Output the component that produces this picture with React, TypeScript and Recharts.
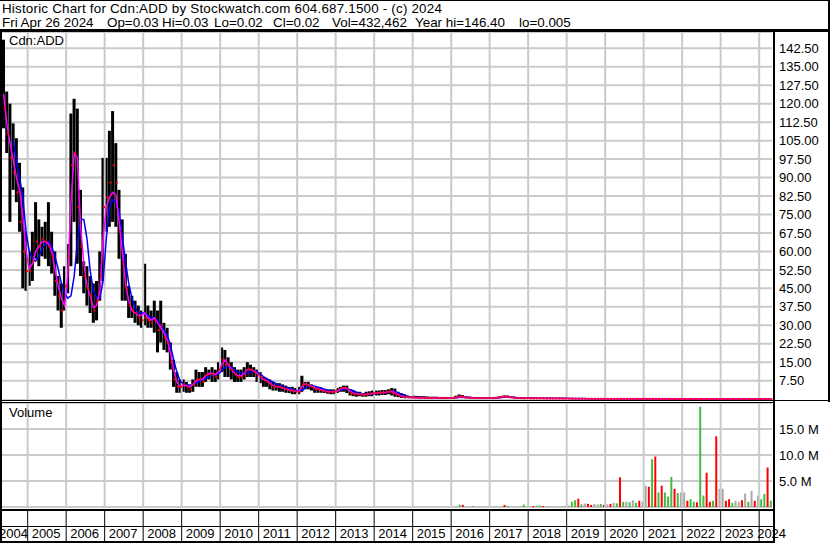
import React from "react";
import { ComposedChart, Bar, Line, XAxis, YAxis, CartesianGrid, ReferenceLine, Cell } from "recharts";

// monthly price bars, May 2004 .. Apr 2024, one row per calendar year
const HIGH = [
  146, 125, 120, 112, 106, 96, 86, 68,
  60, 68, 80, 73, 70, 72, 80, 68, 60, 50, 47, 54,
  63, 116, 122, 118, 85, 56, 54, 50, 47, 48, 60, 98,
  98, 109, 117, 104, 85, 73, 59, 46, 42, 40, 38, 36,
  55, 38, 36, 40, 36, 40, 31, 29, 23, 16, 11, 8,
  8, 7, 6, 8, 12, 11, 11, 13, 12, 13, 12, 15,
  21, 20, 17, 15, 13, 12, 12, 13, 15, 14, 13, 12,
  11, 9, 8.5, 8, 7, 6.5, 6.5, 6, 5.5, 5, 5, 4.5,
  5, 9.5, 7, 7, 6, 5, 5, 4.5, 4, 4, 4, 4,
  4.5, 5, 5.5, 5.5, 4, 3.5, 3, 3, 2.5, 3, 3.2, 3.5,
  3.5, 3.5, 3.7, 3.7, 4, 4.5, 4.3, 3, 2.5, 2, 1.5, 1.2,
  1.4, 1.3, 1.2, 1.2, 1.1, 1.0, 1.0, 1.0, 0.9, 0.9, 0.9, 0.9,
  0.9, 1.4, 1.9, 1.7, 1.2, 1.0, 0.9, 0.9, 0.8, 0.8, 0.8, 0.8,
  0.8, 0.9, 1.0, 1.3, 1.5, 1.5, 1.3, 1.0, 0.9, 0.8, 0.8, 0.7,
  0.7, 0.7, 0.7, 0.6, 0.6, 0.6, 0.6, 0.55, 0.55, 0.5, 0.5, 0.5,
  0.45, 0.45, 0.42, 0.4, 0.38, 0.36, 0.35, 0.33, 0.32, 0.3, 0.3, 0.28,
  0.27, 0.26, 0.25, 0.25, 0.3, 0.27, 0.25, 0.24, 0.24, 0.23, 0.22, 0.22,
  0.25, 0.26, 0.3, 0.28, 0.25, 0.24, 0.24, 0.22, 0.22, 0.2, 0.2, 0.18,
  0.17, 0.16, 0.16, 0.18, 0.15, 0.14, 0.13, 0.13, 0.12, 0.14, 0.12, 0.1,
  0.1, 0.09, 0.09, 0.08, 0.08, 0.07, 0.07, 0.07, 0.06, 0.06, 0.06, 0.05,
  0.05, 0.05, 0.06, 0.03,
];

const LOW = [
  110, 100, 72, 85, 80, 68, 45, 44,
  46, 48, 57, 54, 58, 57, 54, 51, 42, 36, 29, 36,
  43, 54, 72, 55, 50, 43, 38, 35, 31, 32, 40, 48,
  68, 70, 72, 70, 57, 40, 40, 33, 33, 31, 30, 29,
  30, 29, 29, 27, 19, 23, 20, 19, 12, 5, 2.6, 2.6,
  3, 2.6, 2.6, 3, 5, 5, 5, 7, 8, 7, 7, 8,
  11, 9, 9, 8, 7, 7, 7, 8, 9, 9, 9, 7,
  6.5, 5, 5, 4, 3.5, 3.5, 3, 3, 2.6, 2.5, 2, 2,
  2, 3, 4, 4, 3.5, 2.6, 2.6, 2.6, 2.5, 2.2, 2, 2,
  2.5, 3, 3, 2.5, 1.5, 1.2, 1, 1.2, 1, 1, 1.2, 1.2,
  1.5, 1.5, 1.7, 1.7, 2, 1.5, 1, 0.8, 0.5, 0.4, 0.4, 0.4,
  0.3, 0.3, 0.3, 0.3, 0.25, 0.25, 0.2, 0.2, 0.2, 0.2, 0.2, 0.2,
  0.2, 0.3, 0.5, 0.4, 0.3, 0.25, 0.2, 0.2, 0.2, 0.2, 0.2, 0.2,
  0.2, 0.2, 0.3, 0.4, 0.5, 0.5, 0.4, 0.3, 0.2, 0.2, 0.2, 0.2,
  0.15, 0.15, 0.15, 0.15, 0.12, 0.12, 0.12, 0.12, 0.1, 0.1, 0.1, 0.1,
  0.1, 0.09, 0.09, 0.08, 0.08, 0.08, 0.07, 0.07, 0.07, 0.06, 0.06, 0.06,
  0.05, 0.05, 0.04, 0.04, 0.05, 0.05, 0.05, 0.04, 0.04, 0.04, 0.04, 0.04,
  0.05, 0.05, 0.06, 0.05, 0.05, 0.05, 0.04, 0.04, 0.04, 0.04, 0.04, 0.03,
  0.03, 0.03, 0.03, 0.03, 0.03, 0.03, 0.02, 0.02, 0.02, 0.02, 0.02, 0.02,
  0.02, 0.02, 0.015, 0.015, 0.015, 0.01, 0.01, 0.01, 0.01, 0.01, 0.01, 0.005,
  0.01, 0.01, 0.01, 0.02,
];

const CLOSE = [
  118, 108, 98, 92, 84, 72, 60, 52,
  52, 56, 64, 62, 65, 64, 62, 58, 48, 42, 36, 46,
  58, 95, 100, 78, 62, 50, 45, 42, 36, 40, 50, 78,
  82, 88, 95, 88, 68, 55, 45, 38, 36, 35, 33, 32,
  33, 32, 31, 32, 28, 30, 25, 23, 15, 8, 5, 5,
  6, 5, 4, 6, 8, 8, 7, 10, 10, 10, 9, 12,
  16, 14, 14, 12, 10, 9, 9, 10, 12, 12, 11, 10,
  9, 8, 7, 6, 5, 5, 5, 4.5, 4, 3.5, 3.5, 3,
  3, 6, 6, 5.5, 5, 4, 4, 3.5, 3, 3, 3, 3,
  3.5, 4.5, 4.5, 4, 2.5, 2, 2, 2, 1.7, 2, 2.2, 2.5,
  2.5, 2.5, 2.7, 2.7, 3, 2.5, 2, 1.5, 1, 0.8, 0.8, 0.7,
  0.7, 0.6, 0.6, 0.6, 0.5, 0.5, 0.5, 0.5, 0.5, 0.45, 0.45, 0.45,
  0.5, 0.9, 1.2, 1.0, 0.7, 0.55, 0.5, 0.5, 0.45, 0.45, 0.45, 0.45,
  0.45, 0.5, 0.7, 0.9, 1.1, 1.0, 0.8, 0.6, 0.5, 0.45, 0.4, 0.4,
  0.35, 0.35, 0.35, 0.33, 0.32, 0.3, 0.3, 0.3, 0.28, 0.27, 0.26, 0.25,
  0.24, 0.22, 0.2, 0.2, 0.19, 0.18, 0.17, 0.16, 0.15, 0.15, 0.14, 0.13,
  0.12, 0.12, 0.11, 0.12, 0.15, 0.13, 0.12, 0.12, 0.11, 0.11, 0.1, 0.1,
  0.12, 0.13, 0.14, 0.13, 0.12, 0.11, 0.1, 0.1, 0.1, 0.09, 0.09, 0.08,
  0.08, 0.07, 0.07, 0.08, 0.07, 0.06, 0.06, 0.06, 0.05, 0.06, 0.05, 0.05,
  0.05, 0.04, 0.04, 0.04, 0.04, 0.035, 0.035, 0.03, 0.03, 0.03, 0.03, 0.025,
  0.03, 0.03, 0.03, 0.02,
];

// short moving average (magenta)
const MA_FAST = [
  124, 112, 104, 97, 90, 85, 74, 60,
  53, 55, 60, 62, 64, 64, 63, 60, 53, 46, 41, 38,
  50, 80, 100, 98, 70, 55, 46, 42, 37, 38, 44, 65,
  78, 82, 84, 83, 72, 60, 47, 40, 36, 35, 34, 34,
  35, 33, 32, 33, 31, 29, 27, 24, 19, 12, 7, 5,
  5.5, 5.5, 5, 6, 7.5, 8, 8, 9.5, 10.5, 10.5, 10, 11,
  14, 16, 14, 12, 10.5, 9.5, 9.5, 10.5, 12, 12, 11.5, 10.5,
  9, 8, 7.5, 6.5, 5.5, 5, 5, 4.5, 4, 3.7, 3.5, 3.2,
  3.2, 5, 6.3, 5.8, 5.2, 4.5, 4.2, 3.8, 3.3, 3.1, 3, 3,
  3.3, 4.2, 4.6, 4.5, 3.2, 2.4, 2.1, 2, 1.9, 1.9, 2.1, 2.4,
  2.5, 2.6, 2.7, 2.8, 3, 3.2, 2.6, 1.8, 1.2, 0.9, 0.8, 0.7,
  0.6, 0.6, 0.55, 0.55, 0.5, 0.5, 0.5, 0.5, 0.5, 0.45, 0.45, 0.45,
  0.5, 0.7, 1.0, 1.1, 0.8, 0.6, 0.5, 0.5, 0.5, 0.45, 0.45, 0.45,
  0.45, 0.5, 0.6, 0.8, 1.0, 1.0, 0.8, 0.6, 0.5, 0.45, 0.45, 0.4,
  0.38, 0.36, 0.35, 0.34, 0.33, 0.31, 0.3, 0.3, 0.29, 0.28, 0.27, 0.26,
  0.25, 0.23, 0.21, 0.2, 0.19, 0.18, 0.17, 0.16, 0.16, 0.15, 0.14, 0.13,
  0.13, 0.12, 0.12, 0.12, 0.14, 0.14, 0.13, 0.12, 0.12, 0.11, 0.11, 0.1,
  0.11, 0.12, 0.13, 0.13, 0.12, 0.11, 0.11, 0.1, 0.1, 0.09, 0.09, 0.08,
  0.08, 0.08, 0.07, 0.08, 0.07, 0.07, 0.06, 0.06, 0.06, 0.06, 0.05, 0.05,
  0.05, 0.05, 0.04, 0.04, 0.04, 0.04, 0.035, 0.035, 0.03, 0.03, 0.03, 0.03,
  0.03, 0.03, 0.03, 0.025,
];

// long moving average (blue)
const MA_SLOW = [
  null, null, null, 105, 97, 90, 82, 68,
  60, 57, 56, 58, 61, 63, 64, 62, 58, 53, 47, 43,
  41, 42, 50, 64, 73, 73, 65, 52, 44, 41, 41, 48,
  65, 78, 81, 80, 76, 66, 56, 47, 41, 37, 35, 35,
  35, 34, 33, 33, 32, 30, 28, 26, 22, 16, 11, 7.5,
  6.2, 5.8, 5.6, 5.8, 6.5, 7.2, 7.8, 8.5, 9.2, 9.8, 10, 10.3,
  11.5, 13, 13.5, 13, 12, 11, 10.5, 10.3, 10.5, 11, 11.2, 11,
  10.2, 9.2, 8.3, 7.4, 7, 6.3, 5.7, 5.2, 4.8, 4.4, 4, 3.6,
  3.3, 3.6, 4.5, 5.2, 5.5, 5.3, 4.9, 4.5, 4, 3.6, 3.3, 3.2,
  3.3, 3.6, 3.9, 4.1, 3.9, 3.4, 2.8, 2.4, 2.2, 2, 2, 2.1,
  2.3, 2.4, 2.5, 2.6, 2.7, 2.9, 3, 2.6, 2, 1.5, 1.1, 0.9,
  0.8, 0.75, 0.7, 0.65, 0.6, 0.6, 0.55, 0.55, 0.55, 0.5, 0.5, 0.5,
  0.5, 0.55, 0.7, 0.85, 0.9, 0.8, 0.65, 0.55, 0.5, 0.5, 0.5, 0.48,
  0.48, 0.5, 0.55, 0.65, 0.8, 0.9, 0.9, 0.75, 0.6, 0.5, 0.48, 0.45,
  0.45, 0.45, 0.42, 0.42, 0.4, 0.4, 0.4, 0.38, 0.38, 0.36, 0.35, 0.33,
  0.32, 0.3, 0.28, 0.26, 0.24, 0.22, 0.2, 0.18, 0.16, 0.15, 0.14, 0.13,
  0.13, 0.13, 0.12, 0.12, 0.13, 0.13, 0.13, 0.13, 0.12, 0.12, 0.12, 0.11,
  0.11, 0.11, 0.12, 0.12, 0.12, 0.12, 0.11, 0.11, 0.1, 0.1, 0.09, 0.09,
  0.09, 0.08, 0.08, 0.08, 0.07, 0.07, 0.07, 0.06, 0.06, 0.06, 0.06, 0.05,
  0.05, 0.05, 0.05, 0.045, 0.045, 0.04, 0.04, 0.035, 0.035, 0.03, 0.03, 0.03,
  0.03, 0.03, 0.03, 0.03,
];

// volume in millions (peak day of each month)
const VOLUME = [
  0, 0, 0, 0, 0, 0, 0, 0,
  0, 0, 0, 0, 0, 0, 0, 0, 0, 0, 0, 0,
  0, 0, 0, 0, 0, 0, 0, 0, 0, 0, 0, 0,
  0, 0, 0, 0, 0, 0, 0, 0, 0, 0, 0, 0,
  0, 0, 0, 0, 0, 0, 0, 0, 0, 0, 0, 0,
  0, 0, 0, 0, 0, 0, 0, 0, 0, 0, 0, 0,
  0, 0, 0, 0, 0, 0, 0, 0, 0, 0, 0, 0,
  0, 0, 0, 0, 0, 0, 0, 0, 0, 0, 0, 0,
  0, 0, 0, 0, 0, 0, 0, 0, 0, 0, 0, 0,
  0, 0, 0, 0, 0, 0, 0, 0, 0, 0, 0, 0,
  0, 0, 0, 0, 0, 0, 0, 0, 0, 0, 0, 0,
  0, 0, 0, 0, 0, 0, 0, 0, 0, 0, 0, 0,
  0, 0.1, 0.45, 0.4, 0.1, 0.05, 0.2, 0.1, 0.05, 0.05, 0.05, 0.05,
  0.05, 0.05, 0.05, 0.05, 0.4, 0.25, 0.05, 0.05, 0.05, 0.1, 0.45, 0.1,
  0.1, 0.2, 0.25, 0.3, 0.2, 0.1, 0.15, 0.05, 0.05, 0.1, 0.2, 0.15,
  0.3, 1.0, 1.3, 1.6, 0.5, 0.7, 0.6, 0.4, 0.6, 0.5, 0.6, 0.4,
  0.5, 0.6, 0.8, 0.7, 5.7, 1.0, 1.0, 0.9, 1.3, 0.8, 1.2, 1.0,
  4.1, 3.9, 9.2, 9.7, 2.8, 4.1, 2.8, 2.0, 5.8, 3.5, 2.7, 2.8,
  2.8, 1.2, 1.5, 1.0, 0.9, 19.3, 2.2, 6.6, 1.0, 1.2, 13.6, 3.5,
  3.5, 1.2, 1.5, 0.8, 1.2, 1.0, 1.3, 2.6, 1.0, 3.1, 1.2, 2.2,
  1.5, 2.5, 7.6, 1.2,
];

// u = up day (green), d = down day (red), n = unchanged (grey)
const VOL_DIR = [
  "nnnnnnnn",
  "nnnnnnnnnnnn", "nnnnnnnnnnnn", "nnnnnnnnnnnn", "nnnnnnnnnnnn", "nnnnnnnnnnnn",
  "nnnnnnnnnnnn", "nnnnnnnnnnnn", "nnnnnnnnnnnn", "nnnnnnnnnnnn", "nnnnnnnnnnnn",
  "nnnnnnnnnnnn",
  "nnudnnunnnnn",
  "nnnndunnnnun",
  "nduudnunnnnn",
  "nuudunddnnud",
  "ndnudununudn",
  "ndududuuudun",
  "nduuduuddudn",
  "nddunndnundn",
  "uudu",
].join("");

const PRICE_TICKS = [7.5, 15, 22.5, 30, 37.5, 45, 52.5, 60, 67.5, 75, 82.5, 90, 97.5, 105, 112.5, 120, 127.5, 135, 142.5];
const VOL_TICKS = [5, 10, 15];
const YEARS = [2004, 2005, 2006, 2007, 2008, 2009, 2010, 2011, 2012, 2013, 2014, 2015, 2016, 2017, 2018, 2019, 2020, 2021, 2022, 2023, 2024];

const TITLE = "Historic Chart for Cdn:ADD by Stockwatch.com 604.687.1500 - (c) 2024";
// quote line pieces and where each one starts
const QUOTE = [
  ["Fri Apr 26 2024", 2],
  ["Op=0.03", 107],
  ["Hi=0.03", 162],
  ["Lo=0.02", 214],
  ["Cl=0.02", 273],
  ["Vol=432,462", 332],
  ["Year hi=146.40", 415],
  ["lo=0.005", 519],
] as const;

const FIRST_YEAR = 2004;
const FIRST_MONTH = 5;

const FONT = "'Liberation Sans', Arial, sans-serif";
const GRID = "#cacaca";
const VOL_COLORS: Record<string, string> = { u: "#44bb44", d: "#ff0000", n: "#a8a8a8" };

const W = 830;
const PLOT_LEFT = 2;
const AXIS_W = 58;
const BW = (W - PLOT_LEFT - AXIS_W) / HIGH.length;

const monthKey = (i: number) => {
  const t = FIRST_MONTH - 1 + i;
  const y = FIRST_YEAR + Math.floor(t / 12);
  const m = (t % 12) + 1;
  return `${y}-${m < 10 ? "0" + m : m}`;
};

const priceData = HIGH.map((h, i) => ({
  m: monthKey(i),
  hl: [LOW[i], h],
  close: CLOSE[i],
  fast: MA_FAST[i],
  slow: MA_SLOW[i],
}));

const volData = VOLUME.map((v, i) => ({ m: monthKey(i), vol: v, dir: VOL_DIR[i] }));

const YEAR_TICKS = YEARS.map((y) => (y === FIRST_YEAR ? monthKey(0) : `${y}-01`));
const YEAR_STARTS = YEAR_TICKS.slice(1);

const CloseDot = (p: any) => {
  if (p.cy == null || isNaN(p.cy)) return <g key={p.index} />;
  return <rect key={p.index} x={p.cx} y={p.cy - 1} width={2} height={2} fill="#ff0000" />;
};

const YearTick = (props: any) => {
  const { x, y, payload, index } = props;
  const yr = String(payload.value).slice(0, 4);
  const start = x - BW / 2;
  let tx = start + 4;
  if (index === 0) tx = -1;
  else if (index === YEAR_TICKS.length - 1) tx = start - 2;
  return (
    <g>
      {index > 0 && <line x1={start} x2={start} y1={y + 3} y2={y + 35} stroke="#000" strokeWidth={1} />}
      <text x={tx} y={y + 31} fontSize={13} fill="#000" fontFamily={FONT}>
        {yr}
      </text>
    </g>
  );
};

const box = (left: number, top: number, width: number, height: number) => (
  <div style={{ position: "absolute", left, top, width, height, background: "#000" }} />
);

const txt = { position: "absolute" as const, fontSize: 13.4, lineHeight: "14px", whiteSpace: "pre" as const, color: "#000" };

export default function App() {
  return (
    <div style={{ position: "absolute", left: 0, top: 0, width: W, height: 543, background: "#fff", fontFamily: FONT, overflow: "hidden" }}>
      <div style={{ ...txt, left: 2, top: 2, letterSpacing: 0.2 }}>{TITLE}</div>
      {QUOTE.map(([s, x]) => (
        <div key={s} style={{ ...txt, left: x, top: 16 }}>
          {s}
        </div>
      ))}

      <div style={{ position: "absolute", left: 0, top: 32 }}>
        <ComposedChart width={W} height={368} data={priceData} margin={{ top: 0, right: 0, bottom: 0, left: PLOT_LEFT }}>
          <CartesianGrid vertical={false} stroke={GRID} strokeWidth={2} />
          {YEAR_STARTS.map((m) => (
            <ReferenceLine key={m} x={m} position="start" stroke={GRID} strokeWidth={2} />
          ))}
          <XAxis dataKey="m" hide />
          <YAxis
            orientation="right"
            width={AXIS_W}
            domain={[-0.34, 149.12]}
            allowDataOverflow
            ticks={PRICE_TICKS}
            interval={0}
            axisLine={false}
            tickLine={false}
            tickSize={0}
            tickMargin={7}
            tick={{ fill: "#000", fontSize: 13, fontFamily: FONT, textAnchor: "start" }}
            tickFormatter={(v: number) => v.toFixed(2)}
          />
          <Bar dataKey="hl" fill="#000" barSize={3} isAnimationActive={false} />
          <Line dataKey="slow" stroke="#0000ff" strokeWidth={1.5} dot={false} type="linear" isAnimationActive={false} />
          <Line dataKey="fast" stroke="#ff00ff" strokeWidth={1.5} dot={false} type="linear" isAnimationActive={false} />
          <Line dataKey="close" stroke="none" dot={CloseDot} activeDot={false} isAnimationActive={false} />
        </ComposedChart>
      </div>

      <div style={{ position: "absolute", left: 0, top: 403 }}>
        <ComposedChart width={W} height={140} data={volData} margin={{ top: 0, right: 0, bottom: 0, left: PLOT_LEFT }}>
          <CartesianGrid vertical={false} stroke={GRID} strokeWidth={2} />
          {YEAR_STARTS.map((m) => (
            <ReferenceLine key={m} x={m} position="start" stroke={GRID} strokeWidth={2} />
          ))}
          <XAxis
            dataKey="m"
            height={36}
            ticks={YEAR_TICKS}
            interval={0}
            axisLine={false}
            tickLine={false}
            tickSize={0}
            tickMargin={0}
            tick={YearTick}
          />
          <YAxis
            orientation="right"
            width={AXIS_W}
            domain={[0, 20]}
            allowDataOverflow
            ticks={VOL_TICKS}
            interval={0}
            axisLine={false}
            tickLine={false}
            tickSize={0}
            tickMargin={7}
            tick={{ fill: "#000", fontSize: 13, fontFamily: FONT, textAnchor: "start" }}
            tickFormatter={(v: number) => `${v.toFixed(1)} M`}
          />
          <Bar dataKey="vol" barSize={2} isAnimationActive={false}>
            {volData.map((d, i) => (
              <Cell key={i} fill={VOL_COLORS[d.dir]} />
            ))}
          </Bar>
        </ComposedChart>
      </div>

      <div style={{ ...txt, fontSize: 13, left: 9, top: 34 }}>Cdn:ADD</div>
      <div style={{ ...txt, fontSize: 13, left: 9, top: 406 }}>Volume</div>

      {box(0, 0, W, 1)}
      {box(0, 29, W, 3)}
      {box(0, 29, 2, 514)}
      {box(773, 29, 2, 513)}
      {box(828, 0, 2, 402)}
      {box(0, 400, W, 1)}
      {box(0, 402, 775, 1)}
      {box(0, 509, 775, 2)}
      {box(0, 526, 775, 1)}
      {box(0, 541, 775, 2)}
    </div>
  );
}
